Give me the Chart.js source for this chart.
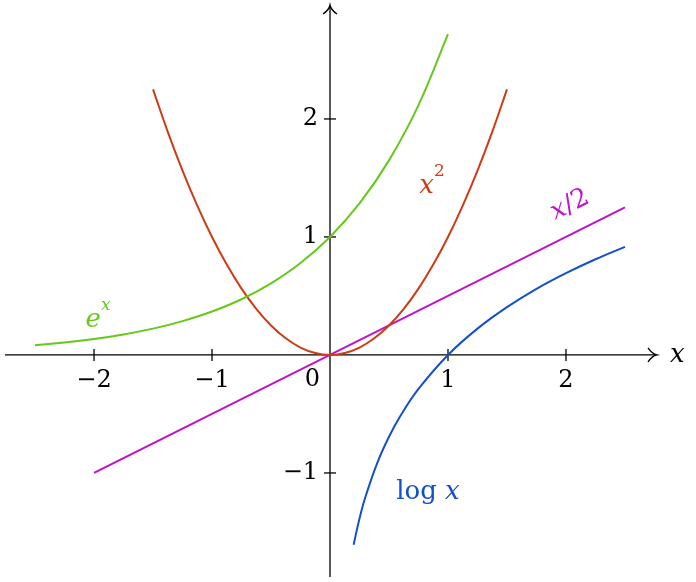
<!DOCTYPE html>
<html><head><meta charset="utf-8">
<script src="https://cdn.jsdelivr.net/npm/chart.js@4/dist/chart.umd.min.js"></script>
<style>html,body{margin:0;padding:0;background:#fff}#w{width:696px;height:582px}</style>
</head><body><div id="w"><canvas id="c"></canvas></div>
<script>
const expX=[-2.5,-2.25,-2,-1.75,-1.5,-1.25,-1,-0.75,-0.5,-0.25,0,0.25,0.5,0.75,1];
const expY=[0.082,0.105,0.135,0.174,0.223,0.287,0.368,0.472,0.607,0.779,1,1.284,1.649,2.117,2.718];
const sqX=[-1.5,-1.375,-1.25,-1.125,-1,-0.875,-0.75,-0.625,-0.5,-0.375,-0.25,-0.125,0,0.125,0.25,0.375,0.5,0.625,0.75,0.875,1,1.125,1.25,1.375,1.5];
const sqY=[2.25,1.891,1.5625,1.266,1,0.766,0.5625,0.391,0.25,0.141,0.0625,0.016,0,0.016,0.0625,0.141,0.25,0.391,0.5625,0.766,1,1.266,1.5625,1.891,2.25];
const halfX=[-2,2.5];
const halfY=[-1,1.25];
const logX=[0.2,0.25,0.3,0.4,0.5,0.6,0.75,1,1.25,1.5,1.75,2,2.25,2.5];
const logY=[-1.609,-1.386,-1.204,-0.916,-0.693,-0.511,-0.288,0,0.223,0.405,0.56,0.693,0.811,0.916];
const xTicks=[-2,-1,1,2];
const xTickLabels=['\u22122','\u22121','1','2'];
const yTicks=[-1,1,2];
const yTickLabels=['\u22121','1','2'];
const pts=(xs,ys)=>xs.map((x,i)=>({x,y:ys[i]}));
const FAM='"DejaVu Serif", "Liberation Serif", serif';
const FONT='24px '+FAM;
const IFONT='italic 26px '+FAM;
const SFONT='italic 17px '+FAM;
function run(c,parts,x,y){ // parts: [text,font,dy]
 c.textAlign='left';let w=0;parts.forEach(p=>{c.font=p[1];w+=c.measureText(p[0]).width;});
 let cx=x-w/2;parts.forEach(p=>{c.font=p[1];c.fillText(p[0],cx,y+(p[2]||0));cx+=c.measureText(p[0]).width;});
}
const axes={id:'axes',beforeDatasetsDraw(ch){
 const c=ch.ctx,xs=ch.scales.x,ys=ch.scales.y;
 const x0=xs.getPixelForValue(0),y0=ys.getPixelForValue(0);
 c.save();c.strokeStyle='#000';c.lineWidth=1.3;
 c.beginPath();c.moveTo(5,y0);c.lineTo(656,y0);c.moveTo(x0,577);c.lineTo(x0,6);c.stroke();
 c.beginPath();c.moveTo(648,y0-7);c.quadraticCurveTo(652,y0-1,657,y0);c.quadraticCurveTo(652,y0+1,648,y0+7);
 c.moveTo(x0-7,14);c.quadraticCurveTo(x0-1,10,x0,5);c.quadraticCurveTo(x0+1,10,x0+7,14);c.stroke();
 c.fillStyle='#000';c.font=FONT;c.textAlign='center';c.textBaseline='top';
 xTicks.forEach((t,i)=>{const p=xs.getPixelForValue(t);c.beginPath();c.moveTo(p,y0-6);c.lineTo(p,y0+6);c.stroke();c.fillText(xTickLabels[i],p,y0+14);});
 c.textAlign='right';c.textBaseline='middle';
 yTicks.forEach((t,i)=>{const p=ys.getPixelForValue(t);c.beginPath();c.moveTo(x0-6,p);c.lineTo(x0+6,p);c.stroke();c.fillText(yTickLabels[i],x0-12,p);});
 c.fillText('0',x0-10,y0+25);
 c.textAlign='left';c.font=IFONT;c.fillText('x',670,y0);
 c.restore();
},afterDatasetsDraw(ch){
 const c=ch.ctx;
 c.save();c.textBaseline='middle';
 c.fillStyle='#66c81a';run(c,[['e',IFONT],['x',SFONT,-14]],98,320);
 c.fillStyle='#cc3c14';run(c,[['x',IFONT],['2','17px '+FAM,-14]],432,186);
 c.fillStyle='#c010d0';c.save();c.translate(570,205);c.rotate(-0.46);run(c,[['x',IFONT],['/2','26px '+FAM]],0,0);c.restore();
 c.fillStyle='#1450c8';run(c,[['log ','26px '+FAM],['x',IFONT]],428,492);
 c.restore();
}};
const ds=(d,col)=>({data:d,borderColor:col,borderWidth:2,pointRadius:0,showLine:true,tension:0.4,fill:false});
new Chart(document.getElementById('c'),{type:'scatter',
 data:{datasets:[ds(pts(expX,expY),'#66c81a'),ds(pts(sqX,sqY),'#cc3c14'),ds(pts(halfX,halfY),'#c010d0'),ds(pts(logX,logY),'#1450c8')]},
 options:{responsive:true,maintainAspectRatio:false,animation:false,layout:{padding:0},
  plugins:{legend:{display:false},tooltip:{enabled:false}},
  scales:{x:{type:'linear',display:false,min:-2.797,max:3.102},y:{type:'linear',display:false,min:-1.924,max:3.008}}},
 plugins:[axes]});
</script></body></html>
